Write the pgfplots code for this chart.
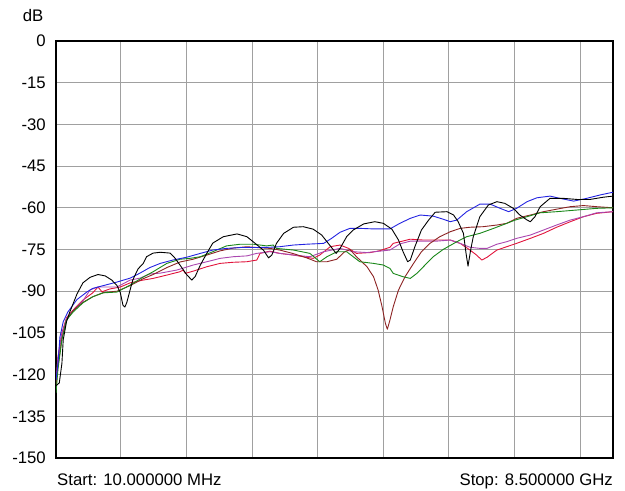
\documentclass[border=0pt]{standalone}
\usepackage{pgfplots}
\pgfplotsset{compat=1.18}
\usepackage{fontspec}
\setmainfont{Liberation Sans}
\definecolor{cblue}{RGB}{35,35,225}
\definecolor{cgreen}{RGB}{25,135,25}
\definecolor{cbrown}{RGB}{140,35,35}
\definecolor{cred}{RGB}{225,20,60}
\definecolor{cpurple}{RGB}{170,70,175}
\definecolor{cgrid}{RGB}{160,160,160}
\newcommand{\lblfont}{\fontsize{16.8}{20}\selectfont}
\begin{document}
\begin{tikzpicture}[x=1bp,y=1bp]
\useasboundingbox (0,0) rectangle (625,491);
\begin{axis}[
  at={(56bp,33bp)}, anchor=south west,
  scale only axis, width=557bp, height=417bp,
  xmin=0.01, xmax=8.5, ymin=-150, ymax=0,
  xtick={1,2,3,4,5,6,7,8}, xticklabels={},
  ytick={-150,-135,-120,-105,-90,-75,-60,-45,-30,-15,0},
  yticklabels={-150,-135,-120,-105,-90,-75,-60,-45,-30,-15,0},
  major tick length=0pt,
  grid=major, grid style={cgrid, line width=1bp},
  axis line style={black, line width=1.1bp},
  yticklabel style={font=\lblfont, anchor=east, inner sep=0pt, xshift=-10bp},
  every axis plot/.append style={line width=0.9bp, line join=round},
  clip=true,
]
\addplot[cred] coordinates {
(0.01,-123) (0.04,-113.6) (0.10,-105) (0.17,-99.6) (0.27,-96.8) (0.42,-93.2) (0.57,-90.6) (0.65,-88.5) (0.71,-90.2) (0.83,-89.2) (0.99,-88.5) (1.14,-87) (1.34,-86) (1.49,-85.4) (1.70,-84.2) (1.90,-83) (1.95,-82.4) (1.98,-83.6) (2.10,-82.8) (2.31,-81.2) (2.51,-80) (2.71,-79.6) (2.92,-79.4) (3.07,-78.8) (3.12,-76.4) (3.27,-75.6) (3.42,-76.4) (3.63,-77) (3.78,-77.6) (3.93,-78.2) (4.03,-77) (4.19,-74) (4.34,-73.4) (4.47,-74.6) (4.59,-76.4) (4.80,-76.1) (4.95,-75.4) (5.10,-74.2) (5.15,-72.8) (5.41,-71.3) (5.61,-71.6) (5.81,-71.6) (6.02,-71.6) (6.17,-72.8) (6.32,-75.2) (6.42,-77) (6.50,-78.8) (6.58,-77.8) (6.73,-75.2) (6.88,-74) (7.03,-72.8) (7.24,-71) (7.44,-69.2) (7.64,-67) (7.85,-65) (8.05,-63.2) (8.25,-62) (8.50,-61.4)
};
\addplot[cpurple] coordinates {
(0.01,-123) (0.04,-114) (0.10,-105.5) (0.17,-100) (0.27,-97) (0.42,-93.5) (0.53,-89.5) (0.65,-88.5) (0.73,-88.5) (0.94,-88.5) (1.14,-86) (1.29,-85.3) (1.44,-83.8) (1.60,-83.5) (1.85,-82.4) (1.95,-81.7) (2.10,-80.6) (2.31,-79.4) (2.51,-78.2) (2.71,-77.6) (2.92,-77.3) (3.07,-76.4) (3.27,-75.8) (3.42,-76.4) (3.63,-77) (3.88,-77.6) (4.09,-75.8) (4.34,-74.6) (4.54,-75.8) (4.75,-76.1) (5.10,-75.2) (5.25,-73) (5.41,-72) (5.61,-72) (5.81,-72) (6.02,-71.6) (6.17,-72.8) (6.32,-74.2) (6.47,-74.6) (6.58,-74.6) (6.73,-73.1) (6.88,-72.2) (7.03,-71) (7.24,-69.8) (7.44,-68) (7.64,-66.2) (7.85,-64.4) (8.05,-63.2) (8.25,-61.8) (8.50,-61.4)
};
\addplot[cbrown] coordinates {
(0.01,-125) (0.04,-117) (0.10,-107) (0.17,-100.5) (0.27,-97) (0.42,-94) (0.57,-92) (0.73,-90.5) (0.94,-90) (1.14,-88) (1.34,-85.5) (1.49,-84) (1.70,-81.5) (1.90,-79.5) (2.10,-78.5) (2.31,-77) (2.51,-75.5) (2.71,-74.5) (2.92,-74) (3.12,-74.4) (3.27,-74.6) (3.42,-75.2) (3.63,-76.5) (3.83,-78) (3.98,-79.4) (4.14,-79.4) (4.29,-78.5) (4.40,-76) (4.49,-75) (4.59,-77.6) (4.75,-81.2) (4.85,-84.8) (4.92,-89.6) (4.98,-95.6) (5.03,-101.5) (5.06,-103.7) (5.10,-100.4) (5.15,-95.6) (5.23,-89.6) (5.33,-84.8) (5.46,-80) (5.58,-75.8) (5.71,-72.8) (5.86,-70.4) (6.02,-68.6) (6.17,-67.4) (6.32,-67) (6.52,-66.8) (6.73,-66.2) (6.88,-65.6) (7.03,-63.8) (7.24,-62.6) (7.44,-61.4) (7.64,-60.5) (7.85,-59.6) (8.05,-59.2) (8.25,-59.6) (8.50,-60)
};
\addplot[cgreen] coordinates {
(0.01,-126.6) (0.04,-118) (0.10,-107.5) (0.17,-100.4) (0.27,-97.5) (0.42,-94.2) (0.57,-92) (0.73,-90.6) (0.94,-90.3) (1.14,-87.8) (1.34,-84.9) (1.49,-83) (1.70,-80) (1.90,-78.5) (2.05,-78.2) (2.21,-77.6) (2.40,-75.8) (2.61,-73.7) (2.82,-73.1) (3.02,-73.1) (3.22,-73.7) (3.32,-73.4) (3.37,-74.6) (3.63,-75.2) (3.88,-76.4) (4.03,-79.4) (4.14,-77.6) (4.29,-75.8) (4.44,-75.8) (4.54,-77.6) (4.64,-79.4) (4.85,-80) (5.00,-80.6) (5.10,-81.8) (5.15,-83.6) (5.30,-84.8) (5.41,-85.4) (5.51,-83.6) (5.61,-81.2) (5.76,-77.6) (5.91,-75) (6.12,-72.2) (6.27,-70.4) (6.47,-69.2) (6.68,-67.4) (6.88,-65.6) (7.01,-64.4) (7.19,-63.2) (7.39,-61.8) (7.64,-61.4) (7.95,-60.8) (8.25,-60.2) (8.50,-60)
};
\addplot[cblue] coordinates {
(0.01,-122) (0.04,-116) (0.07,-106.5) (0.12,-101) (0.19,-97.5) (0.33,-93) (0.48,-90.3) (0.57,-89) (0.73,-88) (0.94,-86.7) (1.14,-85.3) (1.29,-83.5) (1.44,-81.5) (1.60,-80) (1.79,-78.8) (2.00,-77.8) (2.21,-76.4) (2.40,-75.2) (2.61,-74.6) (2.82,-74.3) (3.07,-74.3) (3.27,-74.2) (3.42,-74) (3.63,-73.4) (3.83,-73.1) (4.09,-72.8) (4.21,-71) (4.34,-68.8) (4.49,-67.4) (4.64,-67.4) (4.85,-67.6) (5.10,-67.6) (5.25,-65.6) (5.41,-63.8) (5.56,-62.6) (5.76,-63) (5.91,-64.1) (6.02,-65) (6.12,-64.4) (6.27,-61.4) (6.47,-58.7) (6.63,-58.7) (6.78,-60.2) (6.91,-61.4) (7.03,-60.2) (7.19,-57.8) (7.34,-56.4) (7.54,-55.8) (7.69,-56.6) (7.90,-57.6) (8.10,-56.6) (8.30,-55.4) (8.50,-54.4)
};
\addplot[black] coordinates {
(0.01,-124) (0.06,-123) (0.10,-116) (0.12,-107.5) (0.17,-101) (0.22,-97.5) (0.33,-91) (0.42,-87) (0.53,-85) (0.65,-84) (0.76,-84.5) (0.86,-86) (0.94,-88) (0.99,-90.5) (1.03,-95) (1.06,-95.7) (1.09,-94) (1.14,-89.5) (1.18,-86) (1.26,-82) (1.34,-80) (1.39,-77.6) (1.49,-76.3) (1.60,-76) (1.75,-76.3) (1.82,-78) (1.90,-80.6) (2.00,-84) (2.08,-86) (2.13,-84.8) (2.21,-80.6) (2.31,-76.3) (2.40,-72.7) (2.56,-70.4) (2.77,-69.4) (2.92,-70.4) (3.04,-72.7) (3.17,-75.2) (3.25,-78) (3.30,-77) (3.37,-72.8) (3.48,-69.2) (3.63,-67) (3.78,-66.8) (3.93,-67.7) (4.06,-69.8) (4.16,-72.8) (4.24,-75.2) (4.28,-76.4) (4.34,-74.6) (4.44,-70.4) (4.54,-68) (4.70,-65.8) (4.87,-65) (5.00,-65.6) (5.13,-67.7) (5.23,-71.6) (5.30,-75.8) (5.37,-79.4) (5.41,-78.8) (5.48,-74) (5.58,-68) (5.69,-64.4) (5.79,-61.6) (5.97,-61.4) (6.07,-62.6) (6.14,-65) (6.22,-69.2) (6.26,-76.4) (6.29,-81) (6.33,-75.2) (6.37,-70.4) (6.47,-63.2) (6.60,-59) (6.73,-57.8) (6.85,-58.4) (6.98,-60.2) (7.08,-62.6) (7.19,-64.4) (7.24,-65) (7.31,-63.2) (7.39,-59.6) (7.54,-56.6) (7.74,-56.6) (7.95,-57) (8.15,-57) (8.35,-56.2) (8.50,-55.8)
};
\end{axis}
\node[font=\lblfont, anchor=base, inner sep=0pt] at (33,469) {dB};
\node[font=\lblfont, anchor=base west, inner sep=0pt] at (57,5) {Start: 10.000000 MHz};
\node[font=\lblfont, anchor=base east, inner sep=0pt] at (613,5) {Stop: 8.500000 GHz};
\end{tikzpicture}
\end{document}
